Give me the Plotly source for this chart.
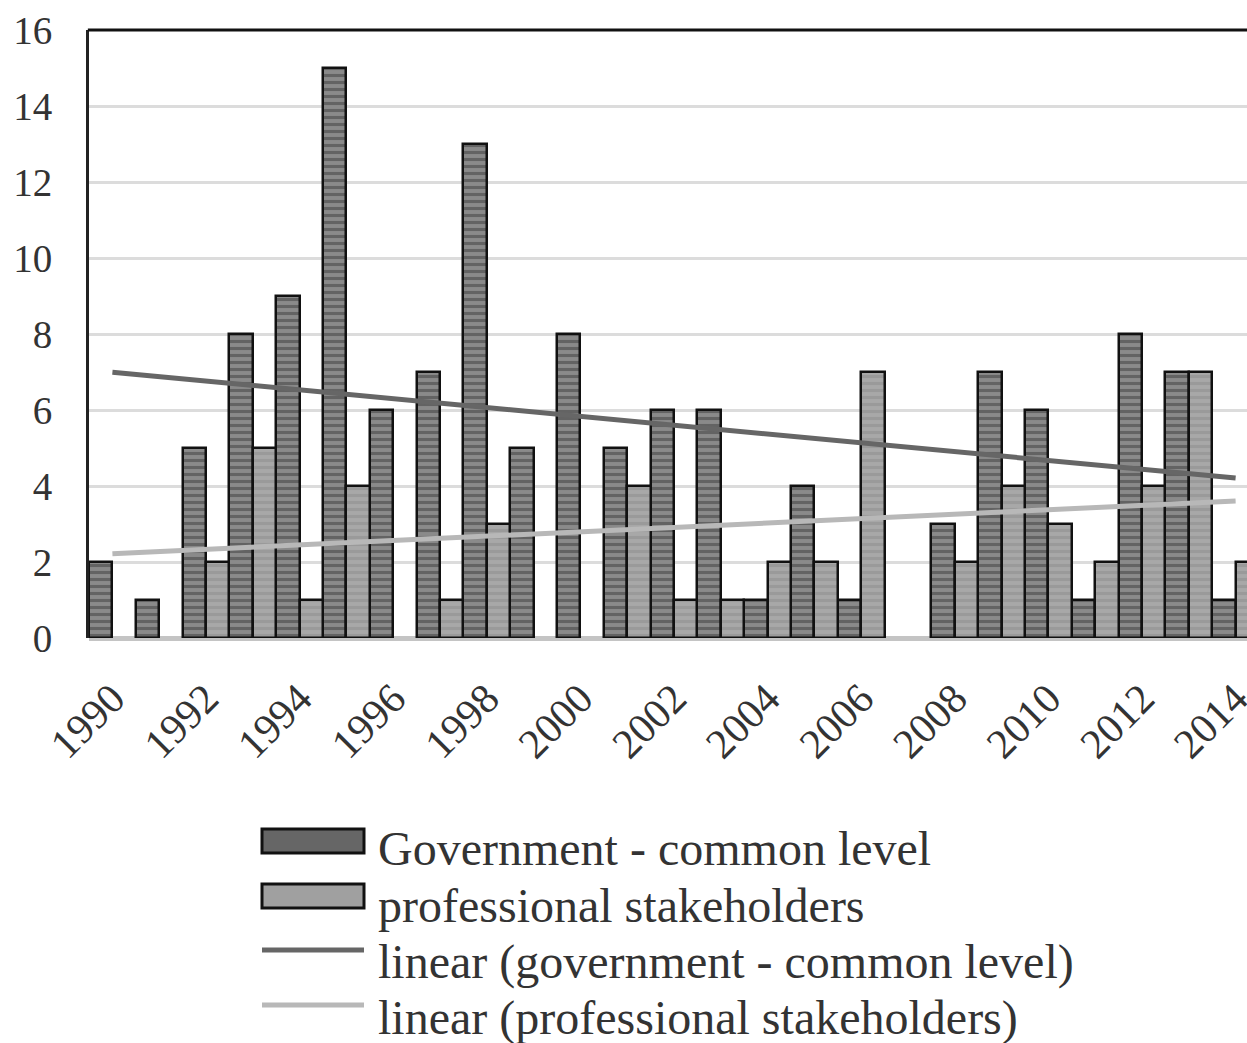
import numpy as np
import plotly.graph_objects as go

# Yearly counts; None marks a year with no entry for that group
years = list(range(1990, 2015))
government = [2, 1, 5, 8, 9, 15, 6, 7, 13, 5, 8, 5, 6, 6, 1, 4, 1, None, 3, 7, 6, 1, 8, 7, 1]
professional = [None, None, 2, 5, 1, 4, None, 1, 3, None, None, 4, 1, 1, 2, 2, 7, None, 2, 4, 3, 2, 4, 7, 2]

series_names = ["Government - common level", "professional stakeholders"]
trend_names = ["linear (government - common level)", "linear (professional stakeholders)"]
y_ticks = [0, 2, 4, 6, 8, 10, 12, 14, 16]
x_ticks = list(range(1990, 2015, 2))

W, H = 1247, 1043
M_L, M_T, M_B, M_R = 89, 30, 405, 0
PW, PH = W - M_L - M_R, H - M_T - M_B
YEAR_PX = 46.8

TEXT = "#333333"
SERIF = "Liberation Serif, Times New Roman, serif"


def linear_trend(xs, ys):
    pts = [(x, y) for x, y in zip(xs, ys) if y is not None]
    px = np.array([p[0] for p in pts], dtype=float)
    py = np.array([p[1] for p in pts], dtype=float)
    slope, intercept = np.polyfit(px, py, 1)
    ends = np.array([xs[0], xs[-1]], dtype=float)
    return ends, slope * ends + intercept


fig = go.Figure()

fig.add_trace(go.Bar(
    x=years, y=government, name=series_names[0], offsetgroup="g",
    marker=dict(
        color="#777777",
        line=dict(color="#111111", width=2.5),
        pattern=dict(shape="-", size=7, solidity=0.45, fgcolor="#3c3c3c", bgcolor="#8a8a8a"),
    ),
))
fig.add_trace(go.Bar(
    x=years, y=professional, name=series_names[1], offsetgroup="p",
    marker=dict(
        color="#a0a0a0",
        line=dict(color="#111111", width=2.5),
        pattern=dict(shape="-", size=7, solidity=0.45, fgcolor="#8c8c8c", bgcolor="#a8a8a8"),
    ),
))

tx, ty = linear_trend(years, government)
fig.add_trace(go.Scatter(x=tx, y=ty, mode="lines", name=trend_names[0],
                         line=dict(color="#666666", width=5)))
tx, ty = linear_trend(years, professional)
fig.add_trace(go.Scatter(x=tx, y=ty, mode="lines", name=trend_names[1],
                         line=dict(color="#b8b8b8", width=5)))


def px_x(x):
    return (x - M_L) / PW


def px_y(y):
    return (H - M_B - y) / PH


shapes = [
    # frame line along the top of the plot area
    dict(type="line", xref="paper", yref="paper", x0=-0.001, x1=1.01, y0=1, y1=1,
         line=dict(color="#111111", width=3)),
]
annotations = []

# Legend drawn as swatches plus text rows
legend_rows = [
    ("bar", "#666666", series_names[0], 841, 848),
    ("bar", "#a0a0a0", series_names[1], 896, 905),
    ("line", "#666666", trend_names[0], 950, 962),
    ("line", "#b8b8b8", trend_names[1], 1005, 1018),
]
for kind, color, label, sy, ty_px in legend_rows:
    if kind == "bar":
        shapes.append(dict(type="rect", xref="paper", yref="paper",
                           x0=px_x(262), x1=px_x(364), y0=px_y(sy - 12), y1=px_y(sy + 12),
                           fillcolor=color, line=dict(color="#111111", width=3)))
    else:
        shapes.append(dict(type="line", xref="paper", yref="paper",
                           x0=px_x(262), x1=px_x(364), y0=px_y(sy), y1=px_y(sy),
                           line=dict(color=color, width=5)))
    annotations.append(dict(xref="paper", yref="paper", x=px_x(376), y=px_y(ty_px),
                            xanchor="left", yanchor="middle", showarrow=False, text=label,
                            font=dict(family=SERIF, size=48, color=TEXT)))

fig.update_layout(
    width=W, height=H,
    margin=dict(l=M_L, r=M_R, t=M_T, b=M_B, pad=0, autoexpand=False),
    paper_bgcolor="white", plot_bgcolor="white",
    barmode="group", bargap=0, bargroupgap=0,
    showlegend=False,
    shapes=shapes, annotations=annotations,
    xaxis=dict(
        range=[1989.5, 1989.5 + PW / YEAR_PX],
        tickmode="array", tickvals=x_ticks, ticktext=[str(v) for v in x_ticks],
        tickangle=-45, ticks="outside", ticklen=0, ticklabelstandoff=18,
        ticklabeloverflow="allow", automargin=False,
        tickfont=dict(family=SERIF, size=42, color=TEXT),
        showgrid=False, showline=False, zeroline=False,
    ),
    yaxis=dict(
        range=[0, 16],
        tickmode="array", tickvals=y_ticks,
        ticks="outside", ticklen=0, ticklabelstandoff=26, automargin=False,
        tickfont=dict(family=SERIF, size=39, color=TEXT),
        showgrid=True, gridcolor="#dcdcdc", gridwidth=2.5,
        zeroline=True, zerolinecolor="#c4c4c4", zerolinewidth=5,
        showline=True, linecolor="#222222", linewidth=3,
    ),
)

fig.write_html("out.html")
